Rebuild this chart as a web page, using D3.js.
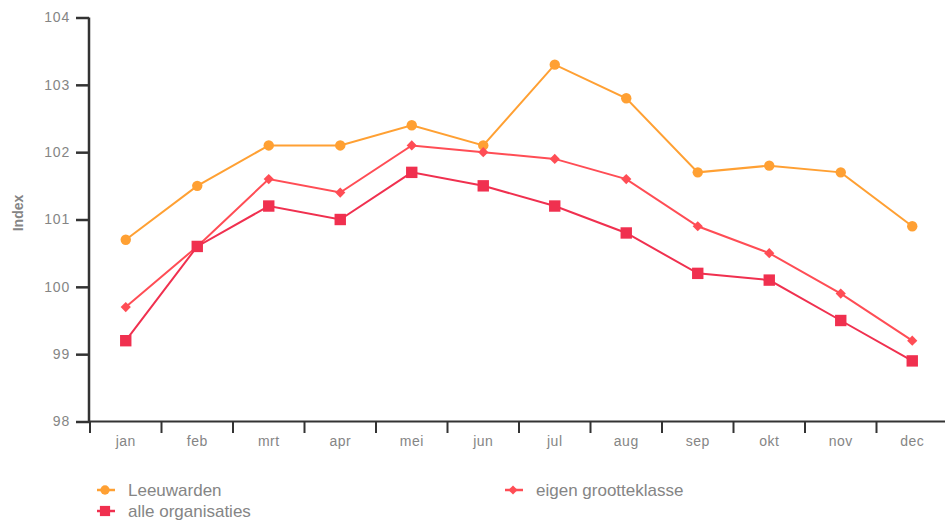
<!DOCTYPE html>
<html><head><meta charset="utf-8">
<script src="https://cdn.jsdelivr.net/npm/d3@7/dist/d3.min.js"></script>
<style>body{margin:0;background:#fff;}svg{display:block;font-family:"Liberation Sans",Arial,sans-serif;}</style>
</head><body>
<svg id="c" width="945" height="520"></svg>
<script>
const months = ["jan","feb","mrt","apr","mei","jun","jul","aug","sep","okt","nov","dec"];
const leeuwarden = [100.7,101.5,102.1,102.1,102.4,102.1,103.3,102.8,101.7,101.8,101.7,100.9];
const eigenGrootteklasse = [99.7,100.6,101.6,101.4,102.1,102.0,101.9,101.6,100.9,100.5,99.9,99.2];
const alleOrganisaties = [99.2,100.6,101.2,101.0,101.7,101.5,101.2,100.8,100.2,100.1,99.5,98.9];
const yTicks = [98,99,100,101,102,103,104];
const seriesNames = ["Leeuwarden","eigen grootteklasse","alle organisaties"];

const svg = d3.select("#c");
const x = d3.scaleBand().domain(months).range([90, 948]);
const y = d3.scaleLinear().domain([98,104]).range([421.5, 17.5]);

// axes
const yAxis = svg.append("g").attr("transform","translate(89,0)")
  .call(d3.axisLeft(y).tickValues(yTicks).tickSize(13).tickPadding(6).tickFormat(d3.format("d")));
yAxis.select(".domain").attr("stroke","#333").attr("stroke-width",2.5).attr("d","M0,17.5V422");
yAxis.selectAll(".tick line").attr("stroke","#333").attr("stroke-width",2.5);
yAxis.selectAll(".tick text").attr("fill","#858585").attr("font-size",14).attr("letter-spacing","0.8px");

const xAxis = svg.append("g").attr("transform","translate(0,421.5)")
  .call(d3.axisBottom(x).tickSize(0).tickPadding(15));
xAxis.select(".domain").attr("stroke","#333").attr("stroke-width",2).attr("d","M89,0H945");
xAxis.selectAll(".tick text").attr("fill","#858585").attr("font-size",14).attr("letter-spacing","0.5px");
const bounds = months.map(m => x(m));
svg.append("g").selectAll("line").data(bounds).join("line")
  .attr("x1",d=>d).attr("x2",d=>d).attr("y1",421.5).attr("y2",433)
  .attr("stroke","#333").attr("stroke-width",2);

svg.append("text").attr("transform","translate(23,213) rotate(-90)")
  .attr("text-anchor","middle").attr("fill","#858585").attr("font-size",14).attr("font-weight","bold").text("Index");

const cx = m => x(m) + x.bandwidth()/2;
const line = d3.line().x((d,i)=>cx(months[i])).y(d=>y(d));

const series = [
  {name:seriesNames[0], data:leeuwarden, color:"#ffa033", shape:"circle"},
  {name:seriesNames[1], data:eigenGrootteklasse, color:"#ff4d55", shape:"diamond"},
  {name:seriesNames[2], data:alleOrganisaties, color:"#f0304f", shape:"square"}
];
const symType = {circle:d3.symbolCircle, diamond:d3.symbolSquare, square:d3.symbolSquare};
const symSize = {circle:85, diamond:52, square:130};
const symRot = {circle:0, diamond:45, square:0};

series.forEach(s => {
  svg.append("path").datum(s.data).attr("d",line).attr("fill","none")
    .attr("stroke",s.color).attr("stroke-width",2);
  svg.append("g").selectAll("path").data(s.data).join("path")
    .attr("transform",(d,i)=>`translate(${cx(months[i])},${y(d)}) rotate(${symRot[s.shape]})`)
    .attr("d",d3.symbol().type(symType[s.shape]).size(symSize[s.shape]))
    .attr("fill",s.color);
});

// legend
const legendPos = [[105,490],[513,490],[105,511]];
series.forEach((s,i)=>{
  const [lx,ly] = legendPos[i];
  const g = svg.append("g").attr("transform",`translate(${lx},${ly})`);
  g.append("line").attr("x1",-8).attr("x2",10).attr("stroke",s.color).attr("stroke-width",2.5);
  g.append("path").attr("transform",`rotate(${symRot[s.shape]})`)
    .attr("d",d3.symbol().type(symType[s.shape]).size(symSize[s.shape]*0.8)).attr("fill",s.color);
  g.append("text").attr("x",23).attr("dy","0.35em").attr("fill","#858585").attr("font-size",17).text(s.name);
});
</script>
</body></html>
